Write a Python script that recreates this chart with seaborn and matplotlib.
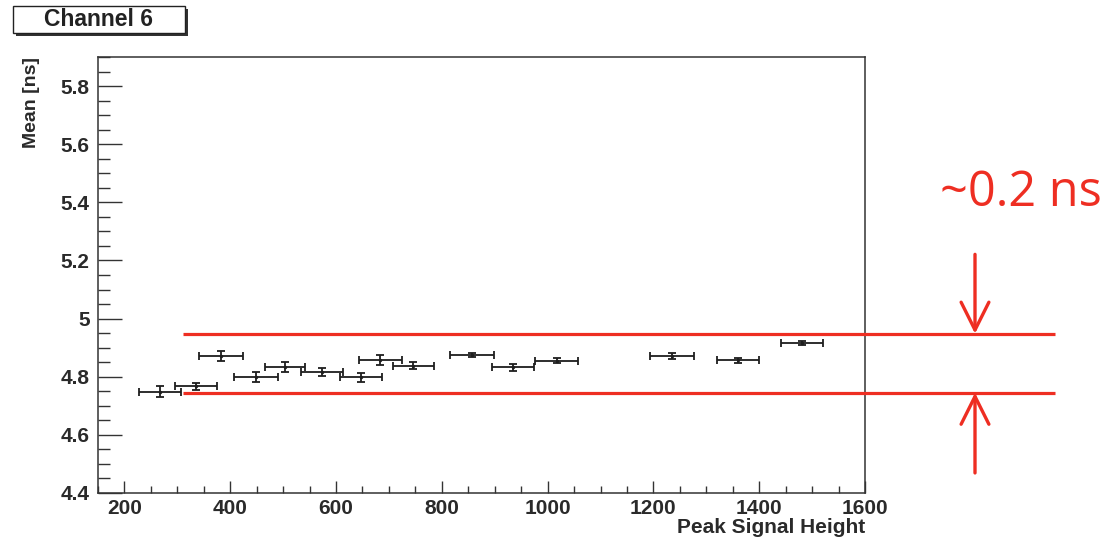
import matplotlib
matplotlib.use("Agg")
import matplotlib.pyplot as plt
import matplotlib.transforms as mtransforms
from matplotlib.patches import Rectangle
from matplotlib.ticker import MultipleLocator
import seaborn as sns
import pandas as pd

# ---- data ----
peak_height = [267, 335, 382, 449, 504, 573, 647, 684, 746, 857, 935, 1017, 1235, 1360, 1481]
mean_ns = [4.749, 4.767, 4.870, 4.798, 4.833, 4.816, 4.798, 4.859, 4.838, 4.876,
           4.833, 4.855, 4.871, 4.856, 4.916]
x_err = [40, 40, 42, 42, 38, 40, 40, 40, 39, 41, 40, 40, 41, 40, 39]
y_err = [0.020, 0.013, 0.017, 0.017, 0.016, 0.014, 0.016, 0.017, 0.012, 0.007,
         0.012, 0.008, 0.010, 0.008, 0.008]
band_levels = [4.745, 4.948]
band_label = "~0.2 ns"
title_text = "Channel 6"
x_label = "Peak Signal Height"
y_label = "Mean [ns]"

df = pd.DataFrame({"x": peak_height, "y": mean_ns, "xe": x_err, "ye": y_err})

sns.set_theme(style="white")
plt.rcParams["font.family"] = ["Liberation Sans", "DejaVu Sans"]

W, H = 1118, 538
fig = plt.figure(figsize=(W / 100, H / 100), dpi=100)
ax = fig.add_axes([98 / W, 1 - 493 / H, (865 - 98) / W, (493 - 57) / H])

ink = "#1e1e1e"
ax.errorbar(df["x"], df["y"], xerr=df["xe"], yerr=df["ye"], fmt="none",
            ecolor=ink, elinewidth=1.3, capsize=3, capthick=1.3, zorder=3)
sns.scatterplot(data=df, x="x", y="y", ax=ax, s=6, color=ink, linewidth=0, zorder=4)

ax.set_xlim(150, 1600)
ax.set_ylim(4.4, 5.9)
ax.xaxis.set_major_locator(MultipleLocator(200))
ax.xaxis.set_minor_locator(MultipleLocator(50))
ax.yaxis.set_minor_locator(MultipleLocator(0.05))
ax.set_yticks([4.4, 4.6, 4.8, 5.0, 5.2, 5.4, 5.6, 5.8])
ax.set_yticklabels(["4.4", "4.6", "4.8", "5", "5.2", "5.4", "5.6", "5.8"])

for s in ax.spines.values():
    s.set_color("#333333")
    s.set_linewidth(1.1)

ax.tick_params(axis="both", which="both", direction="in", colors="#333333",
               labelcolor="#2a2a2a", width=1.0, top=False, right=False,
               bottom=True, left=True)
ax.tick_params(axis="y", which="major", length=17, pad=6, labelsize=15)
ax.tick_params(axis="y", which="minor", length=8.5)
ax.tick_params(axis="x", which="major", length=8.6, pad=4, labelsize=15)
ax.tick_params(axis="x", which="minor", length=5)
for lab in ax.get_xticklabels() + ax.get_yticklabels():
    lab.set_fontweight("bold")

ax.set_xlabel(x_label, loc="right", fontsize=15, fontweight="bold", color="#2a2a2a")
ax.xaxis.set_label_coords(1.0, -0.057)
ax.set_ylabel(y_label, loc="top", fontsize=14, fontweight="bold", color="#2a2a2a")
ax.yaxis.set_label_coords(-0.076, 1.0)

# ---- red band annotation (extends beyond the axes) ----
red = "#ee2e22"
trans = mtransforms.blended_transform_factory(ax.transAxes, ax.transData)
x_start = (183 - 98) / (865 - 98)
x_end = (1055 - 98) / (865 - 98)
x_arrow = (975 - 98) / (865 - 98)
for lvl in band_levels:
    ax.plot([x_start, x_end], [lvl, lvl], transform=trans, color=red, lw=2.3,
            clip_on=False, solid_capstyle="butt", zorder=5)

head = dict(arrowstyle="->,head_length=1.0,head_width=0.5", color=red, lw=2.4,
            mutation_scale=20, shrinkA=0, shrinkB=0)
ax.annotate("", xy=(x_arrow, band_levels[1]), xycoords=trans,
            xytext=(x_arrow, band_levels[1] + 0.273), textcoords=trans,
            arrowprops=head, annotation_clip=False)
ax.annotate("", xy=(x_arrow, band_levels[0]), xycoords=trans,
            xytext=(x_arrow, band_levels[0] - 0.276), textcoords=trans,
            arrowprops=head, annotation_clip=False)
ax.text((940 - 98) / (865 - 98), 5.386, band_label, transform=trans, color=red,
        fontsize=35, family=["Open Sans", "DejaVu Sans"], ha="left", va="baseline",
        clip_on=False)

# ---- ROOT-style title box ----
bx0, by0, bx1, by1 = 13, 6, 185, 33
fig.patches.append(Rectangle(((bx0 + 3) / W, 1 - (by1 + 3) / H), (bx1 - bx0) / W,
                             (by1 - by0) / H, transform=fig.transFigure,
                             facecolor="#333333", edgecolor="none", zorder=1))
fig.patches.append(Rectangle((bx0 / W, 1 - by1 / H), (bx1 - bx0) / W, (by1 - by0) / H,
                             transform=fig.transFigure, facecolor="white",
                             edgecolor="#222222", lw=1.0, zorder=2))
fig.text((bx0 + bx1) / 2 / W, 1 - (by0 + by1) / 2 / H, title_text, ha="center",
         va="center", fontsize=16.5, fontweight="bold", color="#222222", zorder=3)

fig.savefig("out.png", dpi=100)
